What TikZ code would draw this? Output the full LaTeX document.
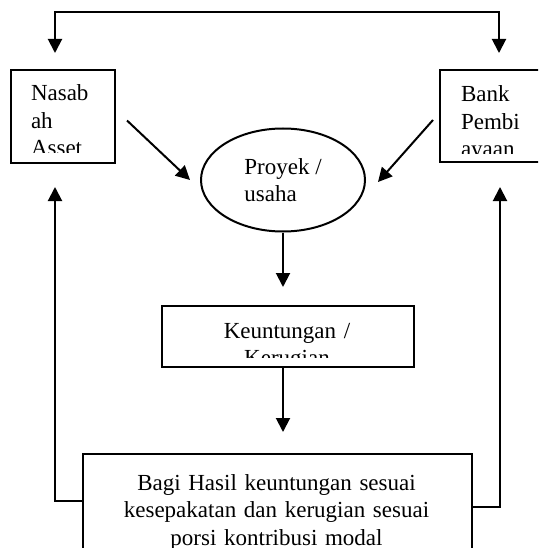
\documentclass[tikz,border=0pt]{standalone}
\usepackage{fontspec}
\setmainfont{Liberation Serif}
\usetikzlibrary{arrows.meta,calc,shapes.geometric}

\begin{document}
\begin{tikzpicture}[x=1pt, y=-1pt, line width=2pt,
  box/.style={draw, rectangle, anchor=north west, inner sep=0pt},
  teks/.style={inner sep=0pt, font=\fontsize{23}{27.5}\selectfont},
  arr/.style={-{Triangle[length=14pt,width=14pt]}}]
% frame of the page
\clip (0,0) rectangle (538,548);
% boxes
\node[box, minimum width=104, minimum height=93] (nasabah) at (10,69) {};
\node[box, minimum width=110, minimum height=92] (bank) at (439,69) {};
\node[draw, ellipse, minimum width=164, minimum height=103, inner sep=0pt, teks, align=left] (proyek) at (283,180) {Proyek /\\usaha};
\node[box, minimum width=252, minimum height=61] (untung) at (161,305) {};
\node[box, minimum width=389, minimum height=120] (bagi) at (82,453) {};
% texts cut off by their boxes
\begin{scope}
  \clip (nasabah.north west) rectangle ([yshift=11pt]nasabah.south east);
  \node[teks, text width=80, align=left, anchor=base west] (nasabahtxt) at (30,101) {Nasab\\ah\\Asset};
\end{scope}
\begin{scope}
  \clip (bank.north west) rectangle ([yshift=9pt]bank.south east);
  \node[teks, text width=80, align=left, anchor=base west] (banktxt) at (460,102) {Bank\\Pembi\\ayaan};
\end{scope}
\begin{scope}
  \clip (untung.north west) rectangle ([yshift=11pt]untung.south east);
  \node[teks, text width=240, align=center, anchor=base] (untungtxt) at (287,338) {Keuntungan /\\Kerugian};
\end{scope}
\node[teks, text width=380, align=center, anchor=base] (bagitxt) at (276.5,490) {Bagi Hasil keuntungan sesuai\\kesepakatan dan kerugian sesuai\\porsi kontribusi modal};
% arrows
\coordinate (atasL) at (55,12);
\coordinate (atasR) at (499,12);
\draw[{Triangle[length=14pt,width=14pt]}-{Triangle[length=14pt,width=14pt]}] (55,53) -- (atasL) -- (atasR) -- (499,53);
\draw[arr] ($(nasabah.east)+(11,4)$) -- ($(proyek.west)+(-10,0)$);
\draw[arr] ($(bank.west)+(-6,4)$) -- ($(proyek.east)+(12,2)$);
\draw[arr] (proyek.south) -- (proyek.south |- 0,287);
\draw[arr] (untung.south -| proyek.south) -- (proyek.south |- 0,432);
\coordinate (balikL) at (55,501);
\coordinate (balikR) at (500,507);
\draw[arr] (balikL -| bagi.west) -- (balikL) -- (55,187);
\draw[arr] (balikR -| bagi.east) -- (balikR) -- (500,187);
\end{tikzpicture}
\end{document}
